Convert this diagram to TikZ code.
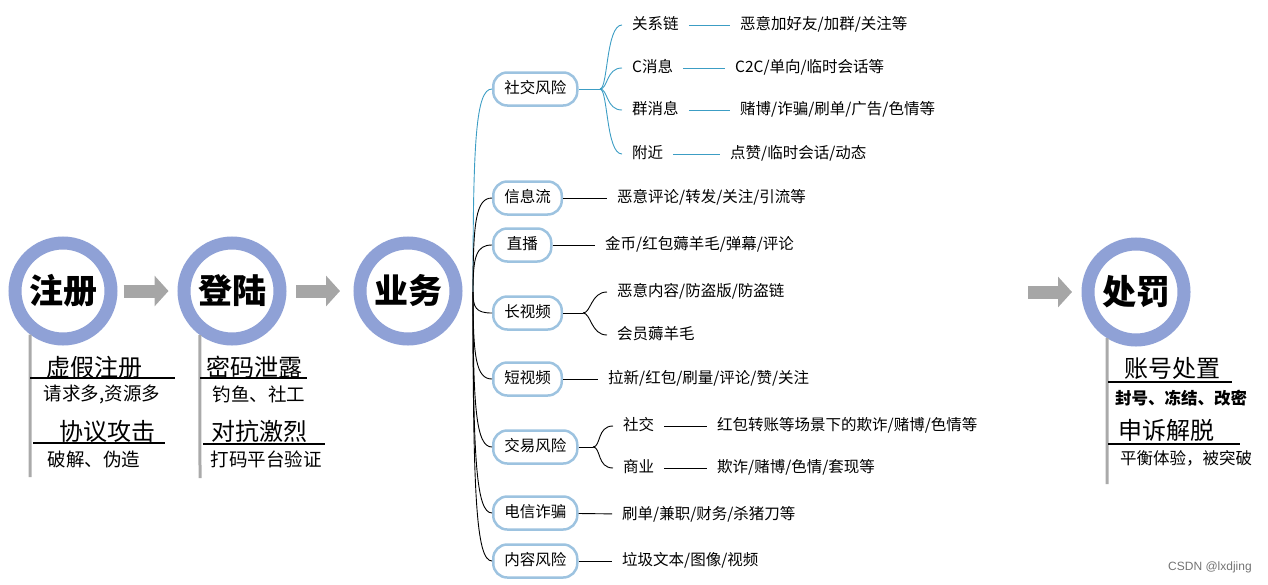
\documentclass[tikz,border=0pt]{standalone}
\usepackage{fontspec}
\setmainfont{Noto Sans CJK SC}
\newfontfamily\wmfont{Liberation Sans}
\usetikzlibrary{arrows.meta,calc}

\definecolor{ringblue}{RGB}{143,161,214}
\definecolor{boxblue}{RGB}{157,195,224}
\definecolor{twigblue}{RGB}{60,157,196}
\definecolor{arrowgray}{RGB}{166,166,166}
\definecolor{stemgray}{RGB}{170,170,170}

\begin{document}
\begin{tikzpicture}[
    x=1pt, y=-1pt,
    stage/.style={
        circle,
        draw=ringblue,
        line width=13pt,
        fill=white,
        minimum size=96pt,
        inner sep=0pt,
        font=\fontsize{34}{38}\selectfont\bfseries
    },
    bigtext/.style={inner sep=0pt, font=\fontsize{24}{28}\selectfont},
    smalltext/.style={inner sep=0pt, font=\fontsize{18.5}{22}\selectfont},
    riskbox/.style={
        draw=boxblue,
        line width=2.5pt,
        rounded corners=14pt,
        fill=white,
        minimum height=33pt,
        minimum width=58pt,
        inner xsep=11pt,
        anchor=west,
        text height=12pt, text depth=3pt,
        font=\fontsize{15.5}{18}\selectfont
    },
    leaftext/.style={
        inner xsep=10pt,
        inner ysep=2pt,
        anchor=west,
        text height=12pt, text depth=3pt,
        font=\fontsize{15.5}{18}\selectfont
    },
    bigarrow/.style={draw=arrowgray, line width=13pt, -{Triangle[length=14pt,width=30pt]}},
    stemline/.style={draw=stemgray, line width=3pt},
    uline/.style={draw=black, line width=1.5pt},
    twig/.style={draw=black, line width=0.9pt},
    stwig/.style={draw=twigblue, line width=0.9pt},
    trunk/.style={to path={.. controls ($(\tikztostart)!0.75!(\tikztostart |- \tikztotarget)$) and ([xshift=-16pt]\tikztotarget) .. (\tikztotarget)}},
    fork/.style={to path={.. controls +(8,0) and +(-16,0) .. (\tikztotarget)}}
]
\useasboundingbox (0,0) rectangle (1268,584);

% Fasi principali
\node[stage] (reg) at (63, 291) {注册};
\node[stage] (login) at (232, 291) {登陆};
\node[stage] (biz) at (408, 291) {业务};
\node[stage] (pun) at (1136, 292) {处罚};

% Frecce grigie
\coordinate (punin) at (1028, 292);
\draw[bigarrow, shorten <=6pt, shorten >=9pt] (reg.east) -- (login.west);
\draw[bigarrow, shorten <=9.5pt, shorten >=13.5pt] (login.east) -- (biz.west);
\draw[bigarrow, shorten >=9.5pt] (punin) -- (pun.west);

% Linee verticali sotto i cerchi
\coordinate (regend) at (30, 477);
\coordinate (loginend) at (200, 478);
\coordinate (punend) at (1107, 484);
\draw[stemline] (reg.-127) -- (regend);
\draw[stemline] (login.-126) -- (loginend);
\draw[stemline] (pun.-122) -- (punend);

% Testi sotto 注册
\node[bigtext] (fake) at (94, 367) {虚假注册};
\node[smalltext] (fakesub) at (102, 394) {请求多,资源多};
\node[bigtext] (proto) at (107, 431) {协议攻击};
\node[smalltext] (protosub) at (94, 459) {破解、伪造};
\draw[uline] (30, 378) -- (175, 378);
\draw[uline] (33, 443) -- (165, 443);

% Testi sotto 登陆
\node[bigtext] (leak) at (254, 367) {密码泄露};
\node[smalltext] (leaksub) at (259, 394) {钓鱼、社工};
\node[bigtext] (fight) at (259, 431) {对抗激烈};
\node[smalltext] (fightsub) at (266, 459) {打码平台验证};
\draw[uline] (200, 378) -- (307, 378);
\draw[uline] (203, 444) -- (325, 444);

% Testi sotto 处罚
\node[bigtext] (acct) at (1172, 368) {账号处置};
\node[inner sep=0pt, font=\fontsize{16.5}{20}\selectfont\bfseries] (acctsub) at (1181, 398) {封号、冻结、改密};
\node[bigtext] (appeal) at (1166, 430) {申诉解脱};
\node[inner sep=0pt, font=\fontsize{16.5}{20}\selectfont] (appealsub) at (1186, 458) {平衡体验，被突破};
\draw[uline] (1108, 382) -- (1232, 382);
\draw[uline] (1108, 444) -- (1240, 444);

% Mappa dei rischi: rami
\coordinate (root) at (473, 292);
\node[riskbox] (social) at (492, 89) {社交风险};
\node[riskbox] (feed) at (492, 198) {信息流};
\node[riskbox] (live) at (492, 245) {直播};
\node[riskbox] (longv) at (492, 313) {长视频};
\node[riskbox] (shortv) at (492, 379) {短视频};
\node[riskbox] (trade) at (492, 447) {交易风险};
\node[riskbox] (fraud) at (492, 513) {电信诈骗};
\node[riskbox] (content) at (492, 561) {内容风险};

\draw[stwig] (root) to[trunk] (social.west);
\draw[twig] (root) to[trunk] (feed.west);
\draw[twig] (root) to[trunk] (live.west);
\draw[twig] (root) to[trunk] (longv.west);
\draw[twig] (root) to[trunk] (shortv.west);
\draw[twig] (root) to[trunk] (trade.west);
\draw[twig] (root) to[trunk] (fraud.west);
\draw[twig] (root) to[trunk] (content.west);

% 社交风险
\coordinate (fsocial) at (600, 89);
\node[leaftext] (chain) at (622, 25) {关系链};
\node[leaftext] (cmsg) at (622, 68) {C消息};
\node[leaftext] (gmsg) at (622, 110) {群消息};
\node[leaftext] (near) at (622, 154) {附近};
\node[leaftext] (chaind) at (730, 25) {恶意加好友/加群/关注等};
\node[leaftext] (cmsgd) at (725, 68) {C2C/单向/临时会话等};
\node[leaftext] (gmsgd) at (730, 110) {赌博/诈骗/刷单/广告/色情等};
\node[leaftext] (neard) at (720, 154) {点赞/临时会话/动态};
\draw[stwig] (social.east) -- (fsocial);
\draw[stwig] (fsocial) to[fork] (chain.west);
\draw[stwig] (fsocial) to[fork] (cmsg.west);
\draw[stwig] (fsocial) to[fork] (gmsg.west);
\draw[stwig] (fsocial) to[fork] (near.west);
\draw[stwig] (chain) -- (chaind);
\draw[stwig] (cmsg) -- (cmsgd);
\draw[stwig] (gmsg) -- (gmsgd);
\draw[stwig] (near) -- (neard);

% 信息流, 直播
\node[leaftext] (feedd) at (607, 198) {恶意评论/转发/关注/引流等};
\node[leaftext] (lived) at (595, 245) {金币/红包薅羊毛/弹幕/评论};
\draw[twig] (feed) -- (feedd);
\draw[twig] (live) -- (lived);

% 长视频
\coordinate (flong) at (583, 313);
\node[leaftext] (longa) at (607, 292) {恶意内容/防盗版/防盗链};
\node[leaftext] (longb) at (607, 335) {会员薅羊毛};
\draw[twig] (longv.east) -- (flong);
\draw[twig] (flong) to[fork] (longa.west);
\draw[twig] (flong) to[fork] (longb.west);

% 短视频
\node[leaftext] (shortd) at (598, 379) {拉新/红包/刷量/评论/赞/关注};
\draw[twig] (shortv) -- (shortd);

% 交易风险
\coordinate (ftrade) at (593, 447);
\node[leaftext] (tsoc) at (613, 426) {社交};
\node[leaftext] (tbiz) at (613, 468) {商业};
\node[leaftext] (tsocd) at (707, 426) {红包转账等场景下的欺诈/赌博/色情等};
\node[leaftext] (tbizd) at (707, 468) {欺诈/赌博/色情/套现等};
\draw[twig] (trade.east) -- (ftrade);
\draw[twig] (ftrade) to[fork] (tsoc.west);
\draw[twig] (ftrade) to[fork] (tbiz.west);
\draw[twig] (tsoc) -- (tsocd);
\draw[twig] (tbiz) -- (tbizd);

% 电信诈骗, 内容风险
\node[leaftext] (fraudd) at (612, 515) {刷单/兼职/财务/杀猪刀等};
\node[leaftext] (contentd) at (612, 561) {垃圾文本/图像/视频};
\draw[twig] (fraud) -- (fraudd);
\draw[twig] (content) -- (contentd);

% Filigrana
\node[text=black!55, font=\wmfont\fontsize{12}{14}\selectfont] (mark) at (1210, 567) {CSDN @lxdjing};

\end{tikzpicture}
\end{document}
